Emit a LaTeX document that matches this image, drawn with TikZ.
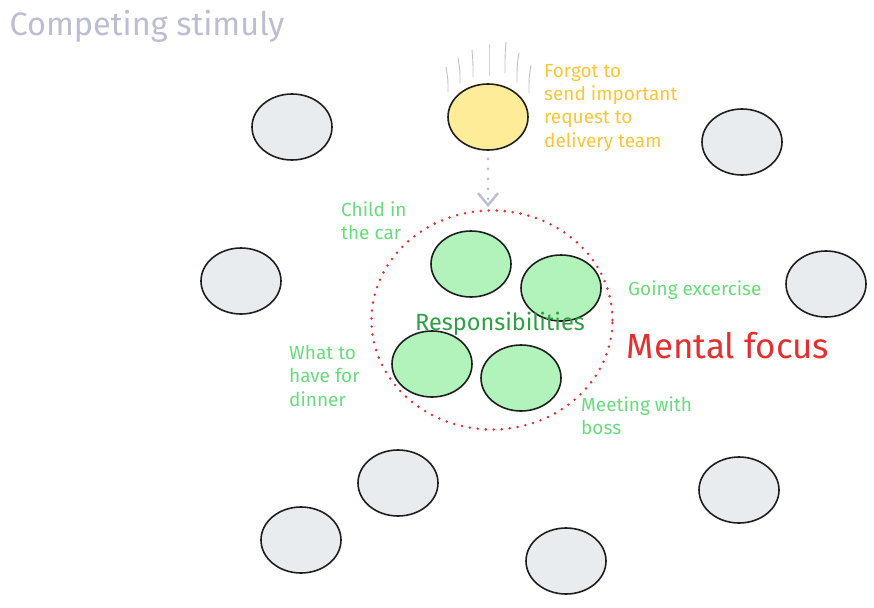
\documentclass[tikz,border=0pt]{standalone}
\usepackage{fontspec}
\setmainfont{Fira Sans}
\usepackage{tikz}
\usetikzlibrary{arrows.meta,shapes.geometric}
\definecolor{ink}{HTML}{1E1E1E}
\definecolor{stimfill}{HTML}{E9ECEF}
\definecolor{duefill}{HTML}{FFEC99}
\definecolor{taskfill}{HTML}{B2F2BB}
\definecolor{haze}{HTML}{BDBDD2}
\definecolor{alarm}{HTML}{E03131}
\definecolor{taskink}{HTML}{69DB7C}
\definecolor{taskdeep}{HTML}{2F9E44}
\definecolor{dueink}{HTML}{FAC53A}

\begin{document}
\begin{tikzpicture}[x=1pt,y=-1pt,
    blob/.style={ellipse,draw=ink,line width=1.6pt,minimum width=80pt,minimum height=66pt,inner sep=0pt},
    note/.style={anchor=north west,align=left,inner sep=0pt,font=\fontsize{19}{23.3}\selectfont}]
  \useasboundingbox (0,0) rectangle (874,607);
  % competing stimuli
  \foreach \n/\x/\y in {1/292/127,2/742/142,3/241/281,4/826/284,5/398/483,6/739/490,7/301/540,8/566/561}{
    \node[blob,fill=stimfill] (s\n) at (\x,\y) {};
  }
  \node[haze,font=\fontsize{32.5}{34}\selectfont] (title) at (147,26) {Competing stimuly};
  % forgotten item
  \node[blob,fill=duefill] (due) at (488,117) {};
  \foreach \x/\a/\b/\c in {448/67/92/-2,460/58/83/-2,473/50/77/-1,489/45/75/0,505/42/73/1,517/53/82/2,529/65/93/2}{
    \draw[haze,line width=0.9pt,line cap=round] (\x+\c,\a) .. controls (\x,\a+12) .. (\x,\b);
  }
  \node[note,text=dueink] (duetxt) at (544,64) {Forgot to\\send important\\request to\\delivery team};
  % mental focus
  \node[ellipse,draw=alarm,line width=2.8pt,line cap=round,dash pattern=on 0pt off 8pt,minimum width=241pt,minimum height=219pt] (focus) at (492,320) {};
  \node[text=alarm,font=\fontsize{35}{37}\selectfont] (focustxt) at (728,346) {Mental focus};
  \draw[haze,line width=3pt,line cap=round,dash pattern=on 0pt off 10pt,
        -{Straight Barb[length=12pt,width=20pt,line width=2.5pt]},shorten <=8pt,shorten >=2pt] (due) -- (focus.north -| due);
  % responsibilities
  \foreach \n/\x/\y in {a/471/264,b/561/288,c/432/364,d/521/378}{
    \node[blob,fill=taskfill] (r\n) at (\x,\y) {};
  }
  \node[text=taskdeep,font=\fontsize{23.5}{25}\selectfont] (resp) at (500,324) {Responsibilities};
  \node[note,text=taskink] (car) at (341,201) {Child in\\the car};
  \node[note,text=taskink] (gym) at (628,280) {Going excercise};
  \node[note,text=taskink] (food) at (289,345) {What to\\have for\\dinner};
  \node[note,text=taskink] (boss) at (581,396) {Meeting with\\boss};
\end{tikzpicture}
\end{document}
